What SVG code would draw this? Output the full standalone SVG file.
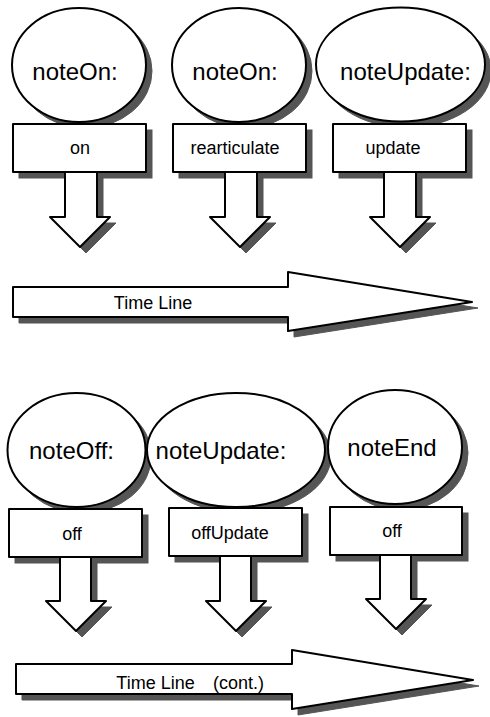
<svg xmlns="http://www.w3.org/2000/svg" xmlns:xlink="http://www.w3.org/1999/xlink" width="490" height="717" viewBox="0 0 490 717">
<defs>
<ellipse id="e1" cx="79" cy="65" rx="67" ry="57"/>
<ellipse id="e2" cx="239" cy="65" rx="67" ry="57"/>
<ellipse id="e3" cx="400.5" cy="64.5" rx="84.5" ry="57"/>
<rect id="r1" x="13" y="124" width="133" height="48"/>
<rect id="r2" x="173" y="124" width="133" height="48"/>
<rect id="r3" x="333" y="124" width="133" height="48"/>
<path id="t1" d="M13,287 L288,287 L288,272 L472,302 L288,331 L288,317 L13,317 Z"/>
<ellipse id="e4" cx="76.5" cy="450" rx="69" ry="57"/>
<ellipse id="e5" cx="236" cy="450" rx="89" ry="57"/>
<ellipse id="e6" cx="395" cy="447" rx="67" ry="57"/>
<rect id="r4" x="9" y="509" width="133" height="48"/>
<rect id="r5" x="169" y="508" width="133" height="48"/>
<rect id="r6" x="330" y="507" width="132" height="48"/>
<path id="t2" d="M16,664 L292,664 L292,650 L473,680 L292,709 L292,694 L16,694 Z"/>
<path id="a1" d="M65,172 L97,172 L97,217 L110,217 L80,247 L50,217 L65,217 Z"/>
<path id="a2" d="M225,172 L257,172 L257,217 L270,217 L240,247 L210,217 L225,217 Z"/>
<path id="a3" d="M384,172 L416,172 L416,217 L430,217 L400,247 L370,217 L384,217 Z"/>
<path id="a4" d="M60,557 L91,557 L91,601 L106,601 L76,631 L46,601 L60,601 Z"/>
<path id="a5" d="M220,556 L251,556 L251,601 L266,601 L236,631 L206,601 L220,601 Z"/>
<path id="a6" d="M380,555 L411,555 L411,599 L426,599 L396,629 L366,599 L380,599 Z"/>
</defs>
<style>
.shd{fill:#555555;stroke:#555555;stroke-width:1}
.shape{fill:#ffffff;stroke:#000000;stroke-width:2;stroke-linejoin:round}
.big{font-family:"Liberation Sans",Arial,sans-serif;font-size:24px;fill:#000000;text-anchor:middle}
.sm{font-family:"Liberation Sans",Arial,sans-serif;font-size:18px;fill:#000000;text-anchor:middle}
.tl{font-family:"Liberation Sans",Arial,sans-serif;font-size:18px;fill:#000000}
</style>
<g id="noteOn1">
<use xlink:href="#e1" href="#e1" class="shd" transform="translate(6,6)"/>
<use xlink:href="#e1" href="#e1" class="shape"/>
<text class="big" x="75" y="80">noteOn:</text>
</g>
<g id="noteOn2">
<use xlink:href="#e2" href="#e2" class="shd" transform="translate(6,6)"/>
<use xlink:href="#e2" href="#e2" class="shape"/>
<text class="big" x="235" y="80">noteOn:</text>
</g>
<g id="noteUpdate1">
<use xlink:href="#e3" href="#e3" class="shd" transform="translate(6,6)"/>
<use xlink:href="#e3" href="#e3" class="shape"/>
<text class="big" x="405.5" y="80">noteUpdate:</text>
</g>
<g id="on">
<use xlink:href="#r1" href="#r1" class="shd" transform="translate(6,6)"/>
<use xlink:href="#r1" href="#r1" class="shape"/>
<text class="sm" x="80" y="154">on</text>
</g>
<g id="rearticulate">
<use xlink:href="#r2" href="#r2" class="shd" transform="translate(6,6)"/>
<use xlink:href="#r2" href="#r2" class="shape"/>
<text class="sm" x="235" y="154">rearticulate</text>
</g>
<g id="update">
<use xlink:href="#r3" href="#r3" class="shd" transform="translate(6,6)"/>
<use xlink:href="#r3" href="#r3" class="shape"/>
<text class="sm" x="393" y="154">update</text>
</g>
<g id="timeline1">
<use xlink:href="#t1" href="#t1" class="shd" transform="translate(6,6)"/>
<use xlink:href="#t1" href="#t1" class="shape"/>
<text class="tl" x="153" y="309" text-anchor="middle">Time Line</text>
</g>
<g id="noteOff">
<use xlink:href="#e4" href="#e4" class="shd" transform="translate(6,6)"/>
<use xlink:href="#e4" href="#e4" class="shape"/>
<text class="big" x="71.5" y="459">noteOff:</text>
</g>
<g id="noteUpdate2">
<use xlink:href="#e5" href="#e5" class="shd" transform="translate(6,6)"/>
<use xlink:href="#e5" href="#e5" class="shape"/>
<text class="big" x="221" y="459">noteUpdate:</text>
</g>
<g id="noteEnd">
<use xlink:href="#e6" href="#e6" class="shd" transform="translate(6,6)"/>
<use xlink:href="#e6" href="#e6" class="shape"/>
<text class="big" x="392" y="456">noteEnd</text>
</g>
<g id="off1">
<use xlink:href="#r4" href="#r4" class="shd" transform="translate(6,6)"/>
<use xlink:href="#r4" href="#r4" class="shape"/>
<text class="sm" x="72" y="540">off</text>
</g>
<g id="offUpdate">
<use xlink:href="#r5" href="#r5" class="shd" transform="translate(6,6)"/>
<use xlink:href="#r5" href="#r5" class="shape"/>
<text class="sm" x="230" y="539">offUpdate</text>
</g>
<g id="off2">
<use xlink:href="#r6" href="#r6" class="shd" transform="translate(6,6)"/>
<use xlink:href="#r6" href="#r6" class="shape"/>
<text class="sm" x="392" y="537">off</text>
</g>
<g id="timeline2">
<use xlink:href="#t2" href="#t2" class="shd" transform="translate(6,6)"/>
<use xlink:href="#t2" href="#t2" class="shape"/>
<text class="tl" x="155.5" y="689" text-anchor="middle">Time Line</text>
<text class="tl" x="213" y="689">(cont.)</text>
</g>
<g id="connectors">
<use xlink:href="#a1" href="#a1" class="shd" transform="translate(6,6)"/>
<use xlink:href="#a1" href="#a1" class="shape"/>
<use xlink:href="#a2" href="#a2" class="shd" transform="translate(6,6)"/>
<use xlink:href="#a2" href="#a2" class="shape"/>
<use xlink:href="#a3" href="#a3" class="shd" transform="translate(6,6)"/>
<use xlink:href="#a3" href="#a3" class="shape"/>
<use xlink:href="#a4" href="#a4" class="shd" transform="translate(6,6)"/>
<use xlink:href="#a4" href="#a4" class="shape"/>
<use xlink:href="#a5" href="#a5" class="shd" transform="translate(6,6)"/>
<use xlink:href="#a5" href="#a5" class="shape"/>
<use xlink:href="#a6" href="#a6" class="shd" transform="translate(6,6)"/>
<use xlink:href="#a6" href="#a6" class="shape"/>
</g>
</svg>
